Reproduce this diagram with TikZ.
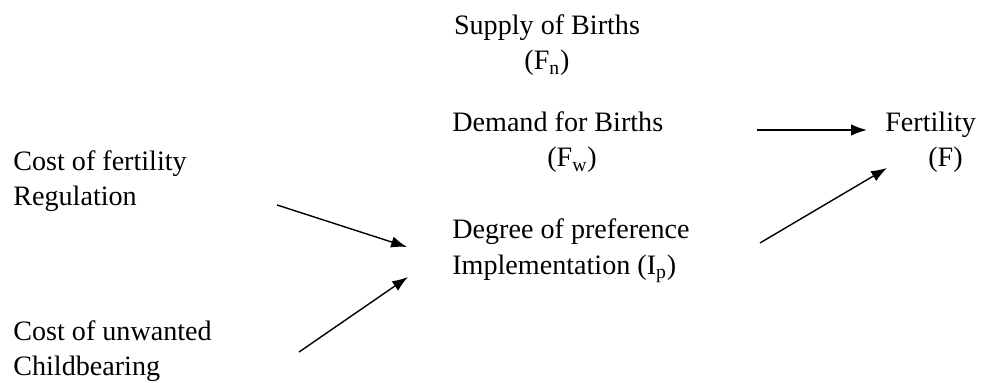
\documentclass[tikz,border=0pt]{standalone}
\usepackage{fontspec}
\setmainfont{Liberation Serif}
\usepackage{tikz}
\usetikzlibrary{positioning,arrows.meta,calc}

\begin{document}
\begin{tikzpicture}[every node/.style={font=\fontsize{16}{20}\selectfont,inner sep=0pt},
  arr/.style={-{Latex[length=9pt,width=6.5pt]},line width=0.8pt}]
\useasboundingbox (0,0) rectangle (19.62,7.66);
\node[align=center] (supply) at (10.94,6.76) {Supply of Births\\(F\textsubscript{n})};
\node[anchor=west,align=left] (demand) at (9.04,4.82) {Demand for Births\\\hspace*{1.9cm}(F\textsubscript{w})};
\node[anchor=west,align=left] (ip) at (9.04,2.64) {Degree of preference\\Implementation (I\textsubscript{p})};
\node[anchor=west,align=left] (fert) at (17.7,4.82) {Fertility\\\hspace*{0.86cm}(F)};
\node[anchor=west,align=left] (reg) at (0.26,4.04) {Cost of fertility\\Regulation};
\node[anchor=west,align=left] (unw) at (0.26,0.64) {Cost of unwanted\\Childbearing};
\draw[arr] ([shift={(1.86,0.24)}]demand.east) -- ([shift={(-0.36,0.24)}]fert.west);
\draw[arr] ([shift={(1.4,0.16)}]ip.east) -- ([shift={(0.04,-0.52)}]fert.west);
\draw[arr] ([shift={(1.8,-0.48)}]reg.east) -- ([shift={(-0.9,0.08)}]ip.west);
\draw[arr] ([shift={(1.74,-0.02)}]unw.east) -- ([shift={(-0.88,-0.52)}]ip.west);
\end{tikzpicture}
\end{document}
